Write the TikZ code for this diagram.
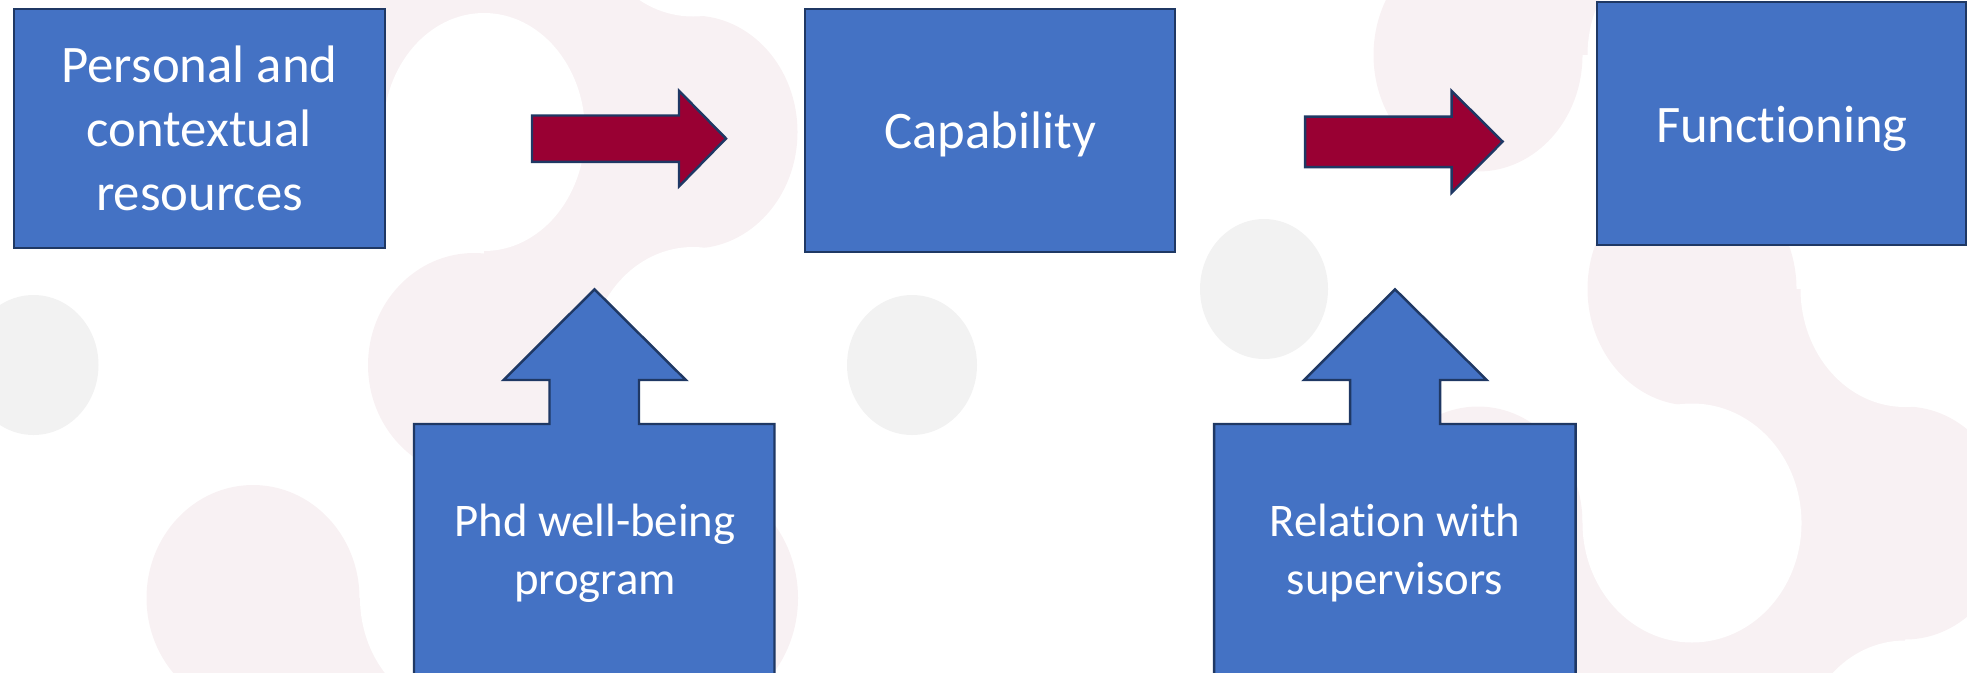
\documentclass[tikz,border=0pt]{standalone}
\usepackage{fontspec}
\setmainfont{Carlito}[Ligatures=NoCommon]
\definecolor{boxblue}{HTML}{4472C4}
\definecolor{edgenavy}{HTML}{1F3864}
\definecolor{arrowred}{HTML}{990033}
\definecolor{blobpink}{RGB}{248,241,243}
\definecolor{dotgray}{HTML}{F2F2F2}
% text sizes: upper boxes and the two callouts
\newcommand{\bigfnt}{\fontsize{15pt}{18.3pt}\selectfont}
\newcommand{\smallfnt}{\fontsize{13.3pt}{16.45pt}\selectfont}
% fixed first-line height, so that a label's north anchor sits 12pt above its first baseline
\newcommand{\lnstrut}{\rule{0pt}{12pt}}
\begin{document}
\begin{tikzpicture}[x=0.01cm, y=-0.01cm,
  bluebox/.style={draw=edgenavy, line width=0.7pt, fill=boxblue, inner sep=0pt, outer sep=0pt},
  redarrow/.style={draw=edgenavy, line width=0.7pt, fill=arrowred},
  lbl/.style={text=white, align=center, inner sep=0pt, anchor=north},
  blob/.style={fill=blobpink},
  hole/.style={fill=white},
  dot/.style={fill=dotgray}]
\useasboundingbox (0,0) rectangle (1967,672);
\clip (0,0) rectangle (1967,672);

% ---------- background: faint pink bands with white bays ----------
% middle band
\fill[blob] (380,-150) rectangle (693,132);
\fill[blob] (484,132) rectangle (693,598);
\fill[blob] (693,132) ellipse [x radius=104.5, y radius=116.5];
\fill[blob] (474,365) ellipse [x radius=106, y radius=112];
\fill[blob] (693,598) ellipse [x radius=105, y radius=116.5];
% lower left band
\fill[blob] (253,598) ellipse [x radius=106.5, y radius=113];
\fill[blob] (253,598) rectangle (466,800);
% right band
\fill[blob] (1478,55) ellipse [x radius=104.5, y radius=116.5];
\fill[blob] (1478,-200) rectangle (1692,55);
\fill[blob] (1692,289) ellipse [x radius=104.5, y radius=116.5];
\fill[blob] (1478,523) ellipse [x radius=104.5, y radius=116.5];
\fill[blob] (1905,523) ellipse [x radius=104.5, y radius=116.5];
\fill[blob] (1692,289) rectangle (1905,757);
\fill[blob] (1478,523) rectangle (1692,757);
% white bays cut into the bands
\fill[hole] (484,132) ellipse [x radius=101, y radius=119];
\fill[hole] (693,-100) ellipse [x radius=104.5, y radius=116.5];
\fill[hole] (693,365) ellipse [x radius=104.5, y radius=118];
\fill[hole] (466,598) ellipse [x radius=106, y radius=116.5];
\fill[hole] (1692,55) ellipse [x radius=104.5, y radius=116.5];
\fill[hole] (1692,523) ellipse [x radius=109.5, y radius=119.5];
\fill[hole] (1905,289) ellipse [x radius=104.5, y radius=118];
\fill[hole] (1905,757) ellipse [x radius=104.5, y radius=116.5];
% light grey dots
\fill[dot] (33.5,365) ellipse [x radius=65, y radius=70];
\fill[dot] (912,365) ellipse [x radius=65, y radius=70];
\fill[dot] (1264,289) ellipse [x radius=64, y radius=70];

% ---------- main chain ----------
\node[bluebox, minimum width=3.71cm, minimum height=2.39cm] (res) at (199.5,128.5) {};
\node[bluebox, minimum width=3.70cm, minimum height=2.43cm] (cap) at (990,130.5) {};
\node[bluebox, minimum width=3.69cm, minimum height=2.43cm] (fun) at (1781.5,123.5) {};

\node[lbl, font=\bigfnt] (tres) at (199.5,39.2) {\lnstrut Personal and\\contextual\\resources};
\node[lbl, font=\bigfnt] (tcap) at (990.5,105.7) {\lnstrut Capability};
\node[lbl, font=\bigfnt] (tfun) at (1782,99.2) {\lnstrut Functioning};

% block arrows between the boxes
\draw[redarrow] (532,115.5) -- (679,115.5) -- (679,90.8) -- (726,138.5)
  -- (679,186.4) -- (679,161.8) -- (532,161.8) -- cycle;
\draw[redarrow] (1305,116.6) -- (1451.5,116.6) -- (1451.5,90.9) -- (1502.6,141.6)
  -- (1451.5,192.9) -- (1451.5,167.2) -- (1305,167.2) -- cycle;

% up-arrow callouts feeding in from below
\draw[bluebox] (414,700) -- (414,424) -- (549.5,424) -- (549.5,380) -- (503.5,380)
  -- (594.5,289.3) -- (685.8,380) -- (639,380) -- (639,424) -- (774.5,424) -- (774.5,700) -- cycle;
\draw[bluebox] (1214,700) -- (1214,424) -- (1350,424) -- (1350,380) -- (1304,380)
  -- (1395,289.3) -- (1486.7,380) -- (1440,380) -- (1440,424) -- (1575.5,424) -- (1575.5,700) -- cycle;

\node[lbl, font=\smallfnt] (tphd) at (595,493.7) {\lnstrut Phd well-being\\program};
\node[lbl, font=\smallfnt] (trel) at (1395,493.7) {\lnstrut Relation with\\supervisors};
\end{tikzpicture}
\end{document}
